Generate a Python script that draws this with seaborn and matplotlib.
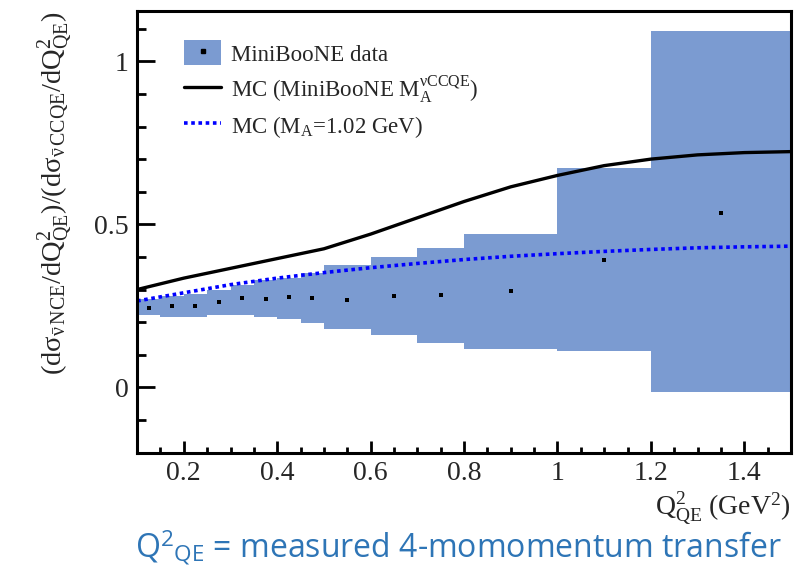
import numpy as np
import pandas as pd
import matplotlib
matplotlib.use("Agg")
import matplotlib.pyplot as plt
import seaborn as sns
from matplotlib.patches import Patch
from matplotlib.lines import Line2D

# bins of Q2_QE (GeV^2) with data points and error band
bin_lo = [0.10, 0.15, 0.20, 0.25, 0.30, 0.35, 0.40, 0.45, 0.50, 0.60, 0.70, 0.80, 1.00, 1.20]
bin_hi = [0.15, 0.20, 0.25, 0.30, 0.35, 0.40, 0.45, 0.50, 0.60, 0.70, 0.80, 1.00, 1.20, 1.50]
data_y = [0.243, 0.248, 0.248, 0.263, 0.274, 0.272, 0.276, 0.274, 0.269, 0.280, 0.283, 0.294, 0.390, 0.534]
band_lo = [0.221, 0.215, 0.215, 0.223, 0.223, 0.216, 0.211, 0.197, 0.179, 0.162, 0.136, 0.119, 0.110, -0.015]
band_hi = [0.270, 0.280, 0.285, 0.300, 0.315, 0.330, 0.335, 0.350, 0.375, 0.400, 0.428, 0.470, 0.673, 1.092]

# MC curves
mc_x = [0.1, 0.2, 0.3, 0.4, 0.5, 0.6, 0.7, 0.8, 0.9, 1.0, 1.1, 1.2, 1.3, 1.4, 1.5]
mc_miniboone = [0.300, 0.335, 0.365, 0.395, 0.425, 0.470, 0.520, 0.570, 0.615, 0.650, 0.680, 0.700, 0.713, 0.720, 0.723]
mc_ma102 = [0.265, 0.290, 0.315, 0.335, 0.352, 0.367, 0.380, 0.392, 0.402, 0.410, 0.417, 0.423, 0.428, 0.431, 0.433]

sns.set_style("ticks")
plt.rcParams['font.family'] = ['Liberation Serif', 'DejaVu Serif']
plt.rcParams['mathtext.fontset'] = 'custom'
plt.rcParams['mathtext.rm'] = 'Liberation Serif'
plt.rcParams['mathtext.it'] = 'Liberation Serif:italic'
plt.rcParams['mathtext.sf'] = 'Open Sans'

band_color = '#7b9bd1'

fig = plt.figure(figsize=(7.97, 5.70), dpi=100)
ax = fig.add_axes([0.172, 0.206, 0.8205, 0.774])

lo = np.array(bin_lo)
hi = np.array(bin_hi)
ax.bar(lo, np.array(band_hi) - np.array(band_lo), width=hi - lo, bottom=band_lo,
       align='edge', color=band_color, linewidth=0)

sns.scatterplot(x=(lo + hi) / 2, y=data_y, ax=ax, marker='s', s=7, color='black',
                linewidth=0, legend=False)

df = pd.DataFrame({'x': mc_x, 'a': mc_miniboone, 'b': mc_ma102})
sns.lineplot(data=df, x='x', y='a', ax=ax, color='black', linewidth=2.4)
sns.lineplot(data=df, x='x', y='b', ax=ax, color='#0000ff', linewidth=2.6,
             linestyle=(0, (1, 1)))

ax.set_xlim(0.1, 1.5)
ax.set_ylim(-0.2, 1.153)
ax.set_xticks([0.2, 0.4, 0.6, 0.8, 1.0, 1.2, 1.4])
ax.set_xticklabels(['0.2', '0.4', '0.6', '0.8', '1', '1.2', '1.4'])
ax.set_xticks(np.arange(0.1, 1.51, 0.05), minor=True)
ax.set_yticks([0, 0.5, 1])
ax.set_yticklabels(['0', '0.5', '1'])
ax.set_yticks(np.arange(-0.1, 1.11, 0.1), minor=True)

for s in ax.spines.values():
    s.set_linewidth(2.2)
    s.set_color('black')
ax.tick_params(axis='both', which='both', direction='in', width=2, color='black',
               labelsize=20, top=False, right=False)
ax.tick_params(axis='x', which='major', length=9, pad=6)
ax.tick_params(axis='x', which='minor', length=4.5)
ax.tick_params(axis='y', which='major', length=13, pad=6)
ax.tick_params(axis='y', which='minor', length=6.5)

ax.set_xlabel(r'$\mathrm{Q^{2}_{QE}}\ \mathrm{(GeV^{2})}$', fontsize=20, loc='right', labelpad=3)
ax.set_ylabel(r'$\mathrm{(d\sigma_{\bar{\nu}\,NCE}/dQ^{2}_{QE})/(d\sigma_{\bar{\nu}\,CCQE}/dQ^{2}_{QE})}$',
              fontsize=20.5, loc='top', labelpad=14)

handles = [
    (Patch(facecolor=band_color, linewidth=0),
     Line2D([], [], marker='s', markersize=2.5, color='black', linestyle='none')),
    Line2D([], [], color='black', linewidth=2.4),
    Line2D([], [], color='#0000ff', linewidth=2.6, linestyle=(0, (1, 1))),
]
labels = ['MiniBooNE data',
          r'MC (MiniBooNE M$_{\mathrm{A}}^{\mathrm{\nu CCQE}}$)',
          r'MC (M$_{\mathrm{A}}$=1.02 GeV)']
ax.legend(handles, labels, loc='upper left', bbox_to_anchor=(0.058, 0.955), frameon=False,
          fontsize=16.5, handlelength=1.6, handleheight=1.3, handletextpad=0.45,
          labelspacing=0.35, borderaxespad=0)

fig.text(135 / 797, 0.006,
         r'Q$^{\mathsf{2}}$$_{\mathsf{QE}}$ = measured 4-momomentum transfer',
         fontsize=23, color='#2e75b6', family='Open Sans', ha='left', va='bottom')

plt.savefig('out.png', dpi=100)
